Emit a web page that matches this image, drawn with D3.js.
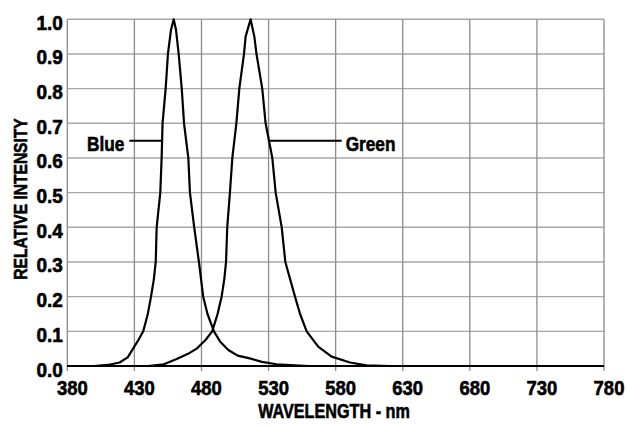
<!DOCTYPE html>
<html>
<head>
<meta charset="utf-8">
<script src="https://cdn.jsdelivr.net/npm/d3@7"></script>
<style>
  body { margin: 0; background: #fff; }
  svg text { font-family: 'Liberation Sans', Arial, sans-serif; font-weight: bold; fill: #000; stroke: #000; stroke-width: 0.6px; }
</style>
</head>
<body>
<script>
// spectra: wavelength (nm) and relative intensity
const blueWavelength = [380, 400, 410, 419, 425, 429, 433, 436.6, 440, 442.4, 444.5, 445.9, 446.6, 449.3, 450.3, 451, 453.3, 455, 457.3, 459.3, 461, 463, 465.3, 467, 470.2, 471.4, 474.6, 478.1, 481.3, 484.5, 489.3, 494, 500, 507, 516, 525, 536, 560, 780];
const blueIntensity  = [0, 0, 0.003, 0.01, 0.025, 0.05, 0.075, 0.10, 0.15, 0.20, 0.25, 0.30, 0.40, 0.50, 0.60, 0.70, 0.80, 0.90, 0.97, 1.00, 0.97, 0.90, 0.80, 0.70, 0.60, 0.50, 0.40, 0.30, 0.20, 0.15, 0.10, 0.07, 0.046, 0.03, 0.022, 0.012, 0.005, 0, 0];
const greenWavelength = [380, 440, 452, 461.5, 470, 476.4, 483, 488, 492, 495, 497, 498.3, 499.2, 501.2, 503, 506, 508.2, 511.7, 512.9, 516.6, 519.4, 521, 525.3, 527.8, 532.8, 535.3, 539.8, 542.5, 549.7, 553.5, 558.4, 567, 577, 590.7, 603, 620, 780];
const greenIntensity  = [0, 0, 0.005, 0.02, 0.035, 0.05, 0.075, 0.10, 0.15, 0.20, 0.25, 0.30, 0.40, 0.50, 0.60, 0.70, 0.80, 0.90, 0.95, 1.00, 0.95, 0.90, 0.80, 0.70, 0.60, 0.50, 0.40, 0.30, 0.20, 0.15, 0.10, 0.056, 0.027, 0.01, 0.002, 0, 0];

const xTicks = [380, 430, 480, 530, 580, 630, 680, 730, 780];
const yTicks = [0, 0.1, 0.2, 0.3, 0.4, 0.5, 0.6, 0.7, 0.8, 0.9, 1.0];

// callout labels: name, level on the curve, which flank, wavelength at the outer end of the leader
const labelNames = ["Blue", "Green"];
const labelLevel = [0.65, 0.65];
const labelSide = ["left", "right"];
const labelEnd = [426.2, 584.5];

const W = 627, H = 425;
const margin = {top: 19.3, right: 23, bottom: 59, left: 67.3};
const width = W - margin.left - margin.right;
const height = H - margin.top - margin.bottom;

const svg = d3.select("body").append("svg")
  .attr("width", W)
  .attr("height", H);
const g = svg.append("g")
  .attr("transform", "translate(" + margin.left + "," + margin.top + ")");

const x = d3.scaleLinear().domain([380, 780]).range([0, width]);
const y = d3.scaleLinear().domain([0, 1]).range([height, 0]);

// horizontal grid
g.append("g")
  .selectAll("line")
  .data(yTicks)
  .enter().append("line")
    .attr("x1", 0).attr("x2", width)
    .attr("y1", d => y(d)).attr("y2", d => y(d))
    .attr("stroke", "#a8a8a8")
    .attr("stroke-width", 1.4);

// vertical grid, running a little below the axis as ticks
g.append("g")
  .selectAll("line")
  .data(xTicks)
  .enter().append("line")
    .attr("x1", d => x(d)).attr("x2", d => x(d))
    .attr("y1", 0).attr("y2", height + 5)
    .attr("stroke", "#8c8c8c")
    .attr("stroke-width", 1.3);

// axis labels (squeezed horizontally to mimic a condensed face)
const xAxis = g.append("g")
  .attr("transform", "translate(0," + height + ")")
  .call(d3.axisBottom(x).tickValues(xTicks).tickSize(0).tickPadding(0).tickFormat(d3.format("d")));
xAxis.select(".domain").remove();
xAxis.selectAll("text")
  .attr("y", 0)
  .attr("dy", 0)
  .attr("transform", "translate(4.5,28.5) scale(0.9,1)")
  .style("font-size", "20.5px");

const yAxis = g.append("g")
  .call(d3.axisLeft(y).tickValues(yTicks).tickSize(0).tickPadding(0).tickFormat(d3.format(".1f")));
yAxis.select(".domain").remove();
yAxis.selectAll("text")
  .attr("x", 0)
  .attr("dy", 0)
  .attr("transform", "translate(-4.5,10) scale(0.95,1)")
  .style("font-size", "20px");

// baseline
g.append("line")
  .attr("x1", 0).attr("x2", width)
  .attr("y1", y(0)).attr("y2", y(0))
  .attr("stroke", "#000")
  .attr("stroke-width", 2.2);

// curves
const line = d3.line()
  .x(d => x(d[0]))
  .y(d => y(d[1]));
const series = [
  d3.zip(blueWavelength, blueIntensity),
  d3.zip(greenWavelength, greenIntensity)
];
g.selectAll(".curve")
  .data(series)
  .enter().append("path")
    .attr("class", "curve")
    .attr("fill", "none")
    .attr("stroke", "#000")
    .attr("stroke-width", 2.2)
    .attr("stroke-linejoin", "round")
    .attr("d", line);

// where a curve crosses a level on one flank
function crossing(pts, level, side) {
  const peak = d3.maxIndex(pts, d => d[1]);
  if (side === "left") {
    for (let i = peak; i > 0; i--) {
      const a = pts[i - 1], b = pts[i];
      if (a[1] <= level && b[1] >= level) return a[0] + (level - a[1]) / (b[1] - a[1]) * (b[0] - a[0]);
    }
  } else {
    for (let i = peak; i < pts.length - 1; i++) {
      const a = pts[i], b = pts[i + 1];
      if (a[1] >= level && b[1] <= level) return a[0] + (a[1] - level) / (a[1] - b[1]) * (b[0] - a[0]);
    }
  }
  return pts[peak][0];
}

labelNames.forEach(function(name, i) {
  const cx = x(crossing(series[i], labelLevel[i], labelSide[i]));
  const ex = x(labelEnd[i]);
  const ly = y(labelLevel[i]);
  const left = labelSide[i] === "left";
  g.append("line")
    .attr("x1", ex).attr("x2", cx)
    .attr("y1", ly).attr("y2", ly)
    .attr("stroke", "#000")
    .attr("stroke-width", 2);
  g.append("text")
    .attr("transform", "translate(" + (left ? ex - 5 : ex + 4) + "," + (ly + 10) + ") scale(0.84,1)")
    .attr("text-anchor", left ? "end" : "start")
    .style("font-size", "20.5px")
    .text(name);
});

// axis titles
svg.append("text")
  .attr("transform", "translate(334,418) scale(0.79,1)")
  .attr("text-anchor", "middle")
  .style("font-size", "20.5px")
  .text("WAVELENGTH - nm");

svg.append("text")
  .attr("transform", "translate(26.5,199) rotate(-90) scale(0.82,1)")
  .attr("text-anchor", "middle")
  .style("font-size", "19px")
  .text("RELATIVE INTENSITY");
</script>
</body>
</html>
